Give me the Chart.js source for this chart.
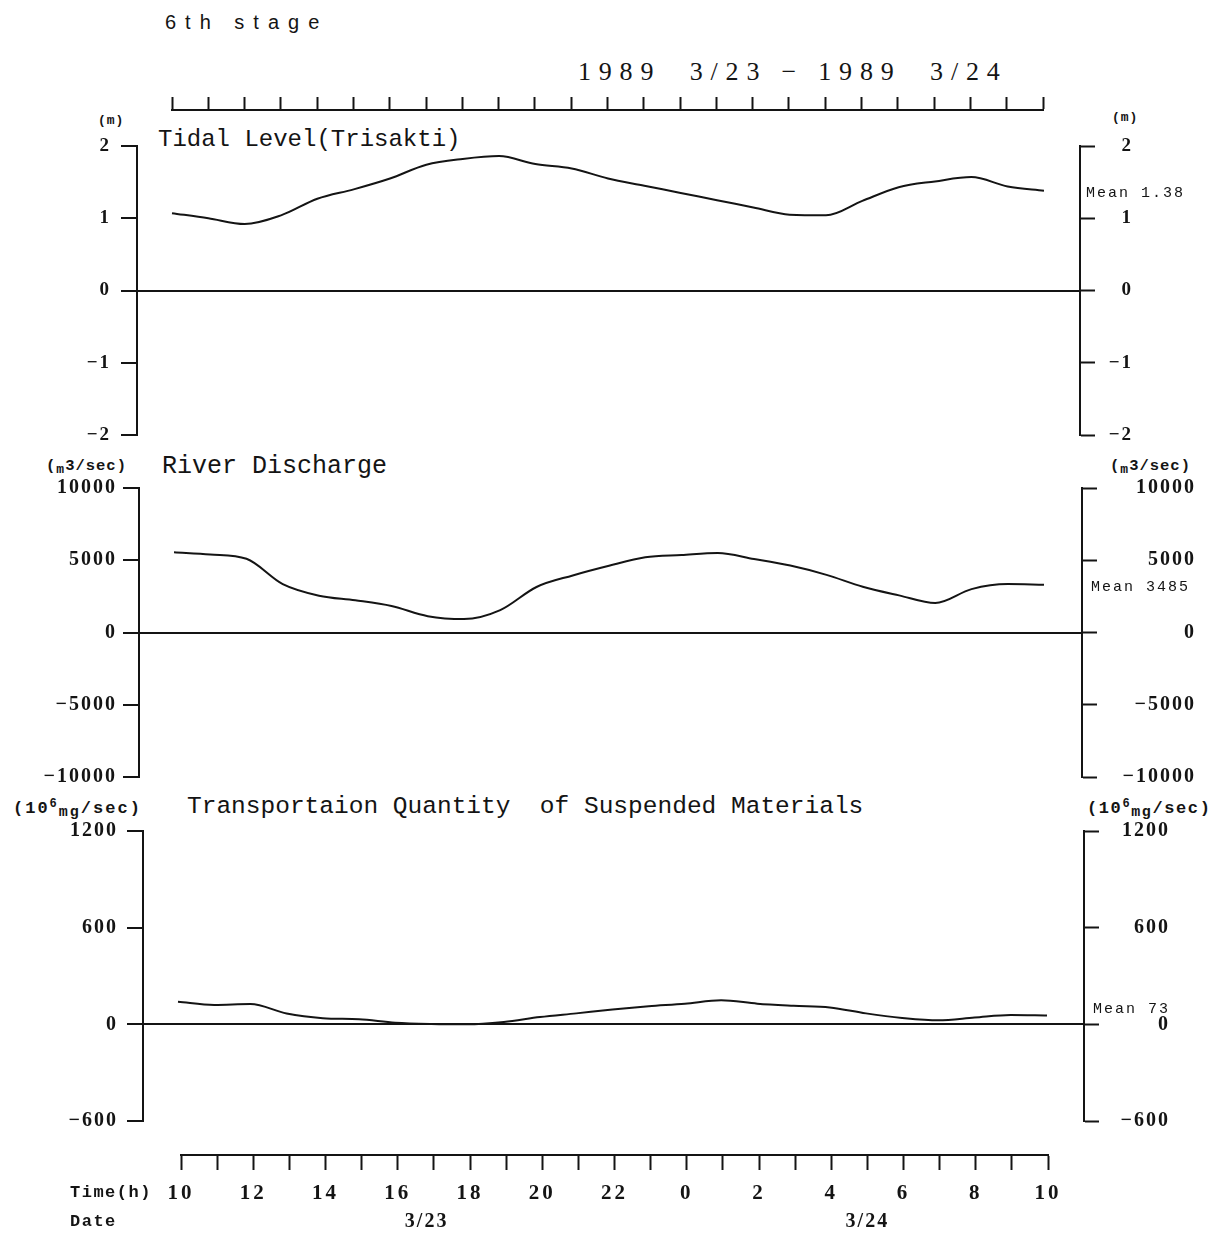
<!DOCTYPE html>
<html lang="en">
<head>
<meta charset="utf-8">
<title>6th stage — 1989 3/23 – 3/24</title>
<script src="https://cdn.jsdelivr.net/npm/chart.js@4.4.1/dist/chart.umd.min.js"></script>
<style>
  html, body { margin: 0; padding: 0; background: #fff; }
  #page { position: relative; width: 1224px; height: 1237px; overflow: hidden; background: #fff; color: #141414; }
  #page canvas { position: absolute; left: 0; }
  .txt { position: absolute; white-space: pre; line-height: 1; color: #141414; }
  .mono { font-family: "Liberation Mono", "DejaVu Sans Mono", monospace; }
  .unit { font-family: "Liberation Mono", "DejaVu Sans Mono", monospace; font-weight: bold; font-size: 15px; letter-spacing: 1px; }
  .lo { font-size: 13px; position: relative; top: 3px; }
  .hi { font-size: 12px; position: relative; top: -6px; }
</style>
</head>
<body>
<div id="page">
  <div class="txt" style="left:165px;top:12px;font-family:'Liberation Sans',sans-serif;font-size:20px;letter-spacing:9px;">6th stage</div>
  <div class="txt" style="left:578px;top:59px;font-family:'Liberation Serif',serif;font-size:26px;letter-spacing:7.8px;">1989  3/23 − 1989  3/24</div>

  <div class="txt unit" style="left:98px;top:114px;font-size:13px;">(m)</div>
  <div class="txt unit" style="left:1112px;top:111px;font-size:13px;">(m)</div>
  <div class="txt mono" style="left:158px;top:128px;font-size:24px;">Tidal Level(Trisakti)</div>

  <div class="txt unit" style="left:46px;top:459px;font-size:15.5px;">(<span class="lo">m</span>3/sec)</div>
  <div class="txt unit" style="left:1110px;top:459px;font-size:15.5px;">(<span class="lo">m</span>3/sec)</div>
  <div class="txt mono" style="left:162px;top:454px;font-size:25px;">River Discharge</div>

  <div class="txt unit" style="left:13px;top:800px;font-size:17px;letter-spacing:2px;">(10<span class="hi">6</span><span class="lo" style="font-size:15px;">mg</span>/sec)</div>
  <div class="txt unit" style="left:1087px;top:800px;font-size:17px;letter-spacing:1.6px;">(10<span class="hi">6</span><span class="lo" style="font-size:15px;">mg</span>/sec)</div>
  <div class="txt mono" style="left:187px;top:795px;font-size:24.5px;">Transportaion Quantity  of Suspended Materials</div>

  <canvas id="rulerTop"></canvas>
  <canvas id="tidal"></canvas>
  <canvas id="discharge"></canvas>
  <canvas id="suspended"></canvas>
  <canvas id="rulerBottom"></canvas>
</div>

<script>
// Hourly observations from 10h on 3/23 to 10h on 3/24 (hour 24 = 0h of 3/24).
const hours = [10, 11, 12, 13, 14, 15, 16, 17, 18, 19, 20, 21, 22, 23, 24, 25, 26, 27, 28, 29, 30, 31, 32, 33, 34];

// Tidal level at Trisakti (m)
const tidalLevel = [1.07, 1.00, 0.92, 1.04, 1.27, 1.40, 1.55, 1.74, 1.82, 1.86, 1.75, 1.69, 1.55,
                    1.45, 1.35, 1.25, 1.15, 1.05, 1.04, 1.24, 1.43, 1.51, 1.57, 1.44, 1.38];

// River discharge (m3/sec)
const riverDischarge = [5560, 5400, 5100, 3350, 2550, 2230, 1830, 1130, 930, 1550, 3150, 3950, 4620,
                        5200, 5360, 5500, 5090, 4630, 3990, 3170, 2570, 2040, 3000, 3350, 3310];

// Transport of suspended materials (10^6 mg/sec)
const suspendedLoad = [140, 120, 126, 67, 38, 31, 10, 2, 0, 15, 45, 68, 92,
                       112, 128, 150, 128, 115, 105, 68, 40, 25, 42, 58, 55];

// Axis tick values
const tidalTicks = [-2, -1, 0, 1, 2];
const dischargeTicks = [-10000, -5000, 0, 5000, 10000];
const suspendedTicks = [-600, 0, 600, 1200];
const clockTicks = hours;                       // one tick per hour on the time rulers
const clockLabel = h => (h % 2 === 0 ? String(h % 24) : '');

// Period means
const tidalMean = 1.38;
const dischargeMean = 3485;
const suspendedMean = 73;

// Date captions under the time ruler (hour position, text)
const dateHours = [16.8, 29.0];
const dateTexts = ['3/23', '3/24'];

// ---------------------------------------------------------------------------
const INK = '#141414';
const PAGE_W = 1224;
const TICK_FONT = '"Liberation Serif", "DejaVu Serif", serif';
const fmt = v => (v < 0 ? '\u2212' : '') + Math.abs(v);

// Letter spacing for all canvas text of a chart (tick labels etc.)
const letterSpacingPlugin = {
  id: 'letterSpacing',
  beforeUpdate(chart, args, opts) { chart.ctx.letterSpacing = (opts.px || 0) + 'px'; },
  beforeDraw(chart, args, opts) { chart.ctx.letterSpacing = (opts.px || 0) + 'px'; }
};

// "Mean ..." note placed at the mean value on the right-hand axis
const meanLabelPlugin = {
  id: 'meanLabel',
  afterDraw(chart, args, opts) {
    if (!opts || opts.text === undefined) return;
    const ctx = chart.ctx;
    const y = chart.scales.yR.getPixelForValue(opts.value) + (opts.dy || 0);
    ctx.save();
    ctx.letterSpacing = '2px';
    ctx.font = '15px "Liberation Mono", "DejaVu Sans Mono", monospace';
    ctx.fillStyle = INK;
    ctx.textAlign = 'left';
    ctx.textBaseline = 'middle';
    ctx.fillText(opts.text, chart.chartArea.right + (opts.dx || 6), y);
    ctx.restore();
  }
};

function sizeCanvas(canvas, top, height) {
  canvas.width = PAGE_W;
  canvas.height = height;
  canvas.style.width = PAGE_W + 'px';
  canvas.style.height = height + 'px';
  canvas.style.top = top + 'px';
}

function makePanel(p) {
  const padT = 30, padB = 30;
  const canvas = document.getElementById(p.id);
  sizeCanvas(canvas, p.top - padT, p.bottom - p.top + padT + padB);

  // hour scale so that hour 10 and hour 34 land on the ends of the trace
  const pxPerHour = (p.end - p.start) / 24;
  const xMin = 10 - (p.start - p.left) / pxPerHour;
  const xMax = 34 + (p.right - p.end) / pxPerHour;
  const yMin = p.ticks[0], yMax = p.ticks[p.ticks.length - 1];

  const axisCommon = {
    type: 'linear',
    min: yMin,
    max: yMax,
    afterBuildTicks: s => { s.ticks = p.ticks.map(v => ({ value: v })); },
    border: { display: true, color: INK, width: 2 },
    ticks: {
      color: INK,
      font: { family: TICK_FONT, size: p.fontSize, weight: 'bold' },
      callback: v => fmt(v)
    }
  };

  return new Chart(canvas, {
    type: 'line',
    data: {
      datasets: [{
        data: hours.map((h, i) => ({ x: h, y: p.values[i] })),
        borderColor: INK,
        borderWidth: 2,
        pointRadius: 0,
        fill: false,
        cubicInterpolationMode: 'monotone',
        yAxisID: 'yL'
      }]
    },
    options: {
      responsive: false,
      animation: false,
      devicePixelRatio: 1,
      events: [],
      layout: { padding: { left: 0, right: PAGE_W - p.labelEdge, top: padT, bottom: padB } },
      plugins: {
        legend: { display: false },
        tooltip: { enabled: false },
        letterSpacing: { px: 2 },
        meanLabel: { value: p.mean, text: p.meanText, dx: p.meanDx, dy: p.meanDy }
      },
      scales: {
        x: { type: 'linear', min: xMin, max: xMax, display: false },
        yL: Object.assign({}, axisCommon, {
          position: 'left',
          afterFit: s => { s.width = p.left; },
          grid: {
            drawOnChartArea: true,
            color: c => (c.tick && c.tick.value === 0 ? INK : 'rgba(0,0,0,0)'),
            lineWidth: 2,
            tickLength: 16,
            tickWidth: 2,
            tickColor: INK
          },
          ticks: Object.assign({}, axisCommon.ticks, { padding: p.padL })
        }),
        yR: Object.assign({}, axisCommon, {
          position: 'right',
          afterFit: s => { s.width = p.labelEdge - p.right; },
          grid: { drawOnChartArea: false, tickLength: 15, tickWidth: 2, tickColor: INK },
          ticks: Object.assign({}, axisCommon.ticks, { crossAlign: 'far' })
        })
      }
    },
    plugins: [letterSpacingPlugin, meanLabelPlugin]
  });
}

makePanel({ id: 'tidal', values: tidalLevel, ticks: tidalTicks,
  mean: tidalMean, meanText: 'Mean ' + tidalMean.toFixed(2), meanDx: 6, meanDy: 2,
  top: 146, bottom: 435, left: 137, right: 1080, start: 172, end: 1044,
  labelEdge: 1133, fontSize: 19, padL: 10 });

makePanel({ id: 'discharge', values: riverDischarge, ticks: dischargeTicks,
  mean: dischargeMean, meanText: 'Mean ' + dischargeMean, meanDx: 9, meanDy: 5,
  top: 488, bottom: 777, left: 139, right: 1082, start: 174, end: 1044,
  labelEdge: 1196, fontSize: 20, padL: 6 });

makePanel({ id: 'suspended', values: suspendedLoad, ticks: suspendedTicks,
  mean: suspendedMean, meanText: 'Mean ' + suspendedMean, meanDx: 9, meanDy: -4,
  top: 831, bottom: 1121, left: 143, right: 1084, start: 178, end: 1047,
  labelEdge: 1170, fontSize: 20, padL: 9 });

// ---- Time ruler along the top (ticks every hour, pointing up) ----
(function () {
  const canvas = document.getElementById('rulerTop');
  const top = 80, lineY = 110;
  sizeCanvas(canvas, top, 40);
  new Chart(canvas, {
    type: 'line',
    data: { datasets: [] },
    options: {
      responsive: false, animation: false, devicePixelRatio: 1, events: [],
      layout: { padding: { left: 172, right: PAGE_W - 1043, top: 0, bottom: 0 } },
      plugins: { legend: { display: false }, tooltip: { enabled: false } },
      scales: {
        x: {
          type: 'linear', position: 'top', min: hours[0], max: hours[hours.length - 1],
          afterBuildTicks: s => { s.ticks = clockTicks.map(v => ({ value: v })); },
          afterFit: s => { s.height = lineY - top; },
          border: { display: true, color: INK, width: 2 },
          grid: { drawOnChartArea: false, tickLength: 13, tickWidth: 2, tickColor: INK },
          ticks: { display: false }
        },
        y: { display: false }
      }
    }
  });
})();

// ---- Time ruler along the bottom with hour and date captions ----
(function () {
  const canvas = document.getElementById('rulerBottom');
  const top = 1125, lineY = 1155, h = 1237 - top;
  sizeCanvas(canvas, top, h);

  const captionPlugin = {
    id: 'captions',
    afterDraw(chart) {
      const ctx = chart.ctx, sx = chart.scales.x;
      const hourY = 1193 - top, dateY = 1222 - top;
      ctx.save();
      ctx.fillStyle = INK;
      ctx.textBaseline = 'middle';
      ctx.letterSpacing = '1.5px';
      ctx.font = 'bold 17px "Liberation Mono", "DejaVu Sans Mono", monospace';
      ctx.textAlign = 'left';
      ctx.fillText('Time(h)', 70, hourY);
      ctx.fillText('Date', 70, dateY);
      ctx.letterSpacing = '2px';
      ctx.font = 'bold 20px ' + TICK_FONT;
      ctx.textAlign = 'center';
      dateTexts.forEach((t, i) => ctx.fillText(t, sx.getPixelForValue(dateHours[i]), dateY));
      ctx.restore();
    }
  };

  new Chart(canvas, {
    type: 'line',
    data: { datasets: [] },
    options: {
      responsive: false, animation: false, devicePixelRatio: 1, events: [],
      layout: { padding: { left: 181, right: PAGE_W - 1048, top: 5, bottom: 0 } },
      plugins: { legend: { display: false }, tooltip: { enabled: false }, letterSpacing: { px: 3 } },
      scales: {
        x: {
          type: 'linear', position: 'bottom', min: hours[0], max: hours[hours.length - 1],
          afterBuildTicks: s => { s.ticks = clockTicks.map(v => ({ value: v })); },
          afterFit: s => { s.height = top + h - lineY; },
          border: { display: true, color: INK, width: 2 },
          grid: { drawOnChartArea: false, tickLength: 15, tickWidth: 2, tickColor: INK },
          ticks: {
            autoSkip: false, maxRotation: 0, padding: 11, color: INK,
            font: { family: TICK_FONT, size: 21, weight: 'bold' },
            callback: v => clockLabel(v)
          }
        },
        y: { display: false }
      }
    },
    plugins: [letterSpacingPlugin, captionPlugin]
  });
})();
</script>
</body>
</html>
